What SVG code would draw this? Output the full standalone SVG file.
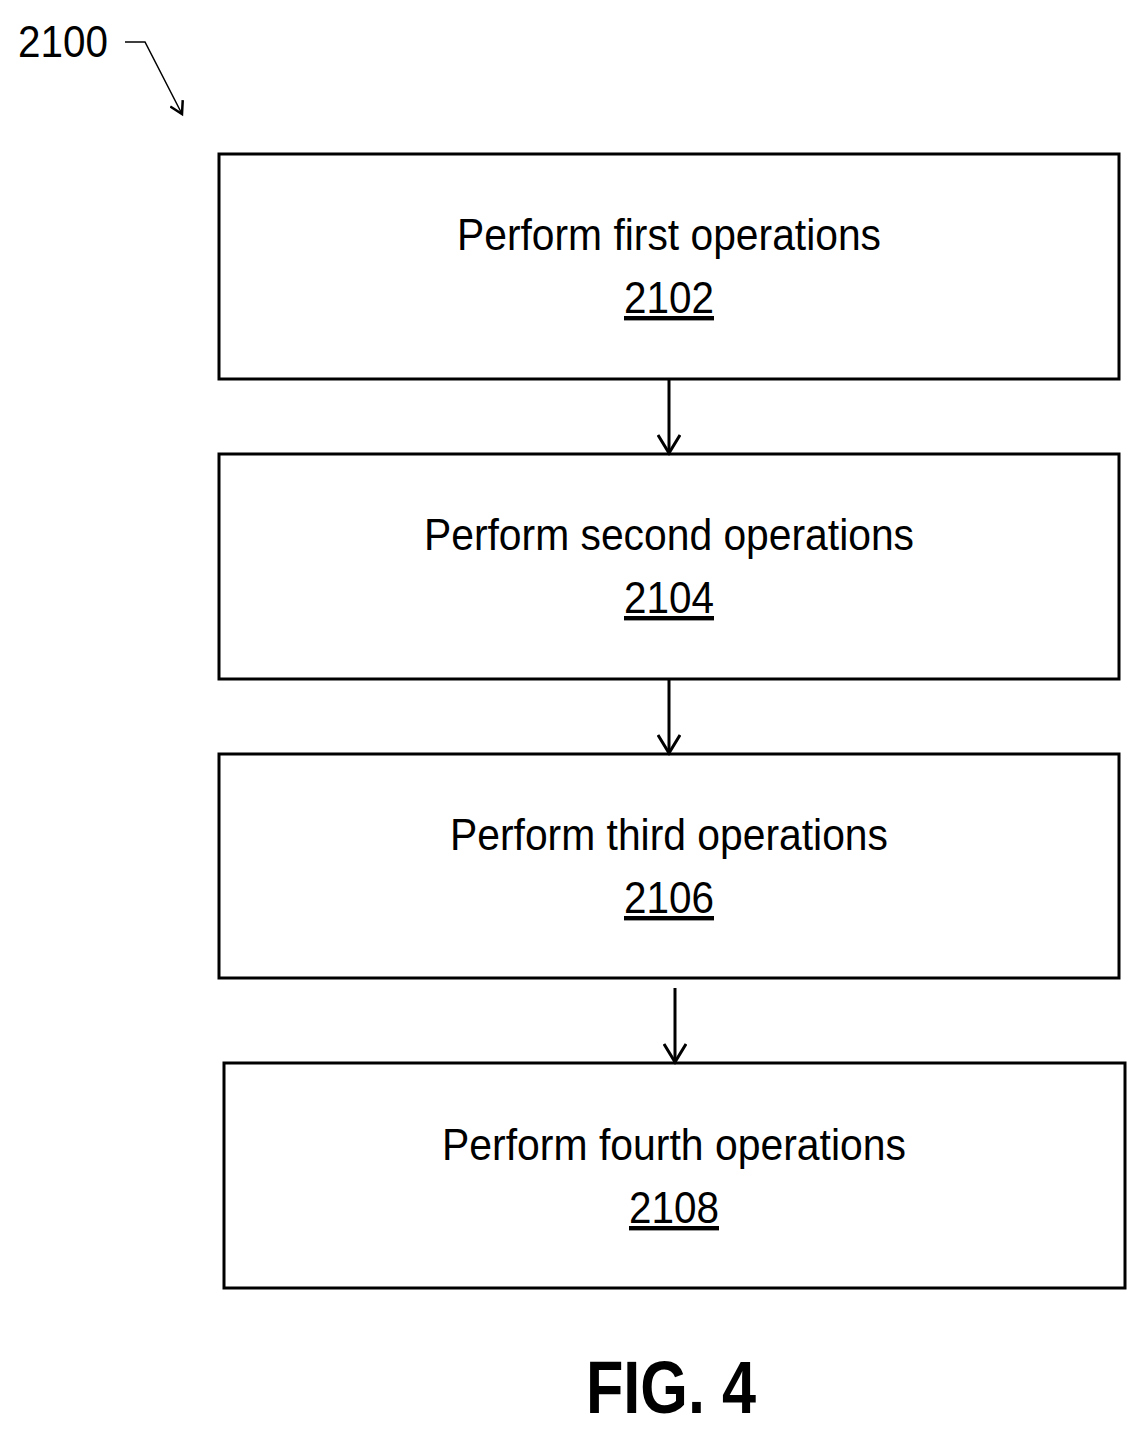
<svg xmlns="http://www.w3.org/2000/svg" width="1147" height="1436" viewBox="0 0 1147 1436">
<style>
.b{fill:#fff;stroke:#000;stroke-width:3}
.t{font-family:"Liberation Sans",Arial,sans-serif;font-size:44px;text-anchor:middle;fill:#000}
.c{stroke:#000;stroke-width:3;fill:none}
</style>
<defs>
<marker id="a" markerWidth="24" markerHeight="24" refX="20" refY="12" orient="auto" markerUnits="userSpaceOnUse"><path d="M2,1 L20,12 L2,23" fill="none" stroke="#000" stroke-width="3"/></marker>
<marker id="s" markerWidth="16" markerHeight="16" refX="13" refY="8" orient="auto" markerUnits="userSpaceOnUse"><path d="M1,1 L13,8 L1,15" fill="none" stroke="#000" stroke-width="2.5"/></marker>
</defs>
<rect width="1147" height="1436" fill="#fff"/>
<text x="18" y="57" font-family="Liberation Sans,Arial,sans-serif" font-size="44" textLength="90" lengthAdjust="spacingAndGlyphs">2100</text>
<path d="M125,42 L145,42 L182,114" fill="none" stroke="#000" stroke-width="1.5" marker-end="url(#s)"/>
<g id="n1"><rect class="b" x="219" y="154" width="900" height="225"/><text class="t" x="669" y="250" textLength="424" lengthAdjust="spacingAndGlyphs">Perform first operations</text><text class="t" x="669" y="313" text-decoration="underline" textLength="90" lengthAdjust="spacingAndGlyphs">2102</text></g>
<g id="n2"><rect class="b" x="219" y="454" width="900" height="225"/><text class="t" x="669" y="550" textLength="490" lengthAdjust="spacingAndGlyphs">Perform second operations</text><text class="t" x="669" y="613" text-decoration="underline" textLength="90" lengthAdjust="spacingAndGlyphs">2104</text></g>
<g id="n3"><rect class="b" x="219" y="754" width="900" height="224"/><text class="t" x="669" y="850" textLength="438" lengthAdjust="spacingAndGlyphs">Perform third operations</text><text class="t" x="669" y="913" text-decoration="underline" textLength="90" lengthAdjust="spacingAndGlyphs">2106</text></g>
<g id="n4"><rect class="b" x="224" y="1063" width="901" height="225"/><text class="t" x="674" y="1160" textLength="464" lengthAdjust="spacingAndGlyphs">Perform fourth operations</text><text class="t" x="674" y="1223" text-decoration="underline" textLength="90" lengthAdjust="spacingAndGlyphs">2108</text></g>
<g id="connectors">
<line class="c" x1="669" y1="379" x2="669" y2="453" marker-end="url(#a)"/>
<line class="c" x1="669" y1="679" x2="669" y2="753" marker-end="url(#a)"/>
<line class="c" x1="675" y1="988" x2="675" y2="1062" marker-end="url(#a)"/>
</g>
<text x="671" y="1413" font-family="Liberation Sans,Arial,sans-serif" font-size="74" font-weight="bold" text-anchor="middle" textLength="170" lengthAdjust="spacingAndGlyphs">FIG. 4</text>
</svg>
